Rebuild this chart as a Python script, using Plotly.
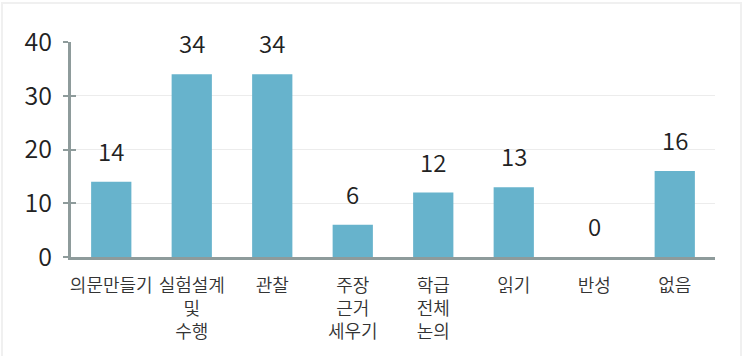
import plotly.graph_objects as go

categories = ["의문만들기", "실험설계<br>및<br>수행", "관찰", "주장<br>근거<br>세우기",
              "학급<br>전체<br>논의", "읽기", "반성", "없음"]
values = [14, 34, 34, 6, 12, 13, 0, 16]
y_ticks = [0, 10, 20, 30, 40]

BAR = "#67b3cc"
AXIS = "#8e9b9b"
FONT = "Noto Sans CJK KR"

fig = go.Figure()
fig.add_trace(go.Bar(x=categories, y=values, marker=dict(color=BAR, line=dict(width=0)),
                     hoverinfo="skip"))
# invisible trace for the overlaying axis (crossing tick marks)
fig.add_trace(go.Scatter(x=categories, y=values, yaxis="y2", mode="markers",
                         marker=dict(opacity=0), hoverinfo="skip", showlegend=False))

for c, v in zip(categories, values):
    fig.add_annotation(x=c, y=v, text=str(v), showarrow=False, yanchor="bottom",
                       yshift=12, font=dict(family=FONT, size=24, color="#222", weight=350))

fig.update_layout(
    width=752, height=356,
    margin=dict(l=71, r=37, t=42, b=99),
    plot_bgcolor="white", paper_bgcolor="white",
    showlegend=False, bargap=0.5,
    font=dict(family=FONT, color="#333"),
    xaxis=dict(showline=True, linecolor=AXIS, linewidth=3, ticks="",
               tickfont=dict(family=FONT, size=18, color="#333", weight=350),
               ticklabelstandoff=10, showgrid=False, zeroline=False),
    yaxis=dict(range=[0, 40], tickvals=y_ticks, showline=True, linecolor=AXIS, linewidth=3,
               ticks="outside", ticklen=5, tickwidth=2, tickcolor=AXIS,
               tickfont=dict(family=FONT, size=25, color="#222", weight=350),
               ticklabelstandoff=6, showgrid=True, gridcolor="#ececec", gridwidth=1,
               zeroline=False),
    yaxis2=dict(range=[0, 40], tickvals=y_ticks, overlaying="y", side="left",
                ticks="inside", ticklen=5, tickwidth=2, tickcolor=AXIS,
                showticklabels=False, showgrid=False, zeroline=False, showline=False),
)

# faint container border
fig.add_shape(type="rect", xref="paper", yref="paper",
              x0=-69 / 644, x1=670 / 644, y0=-120 / 215, y1=(215 + 39) / 215,
              line=dict(color="#f0f0f0", width=2), layer="below")

fig.write_html("out.html")
